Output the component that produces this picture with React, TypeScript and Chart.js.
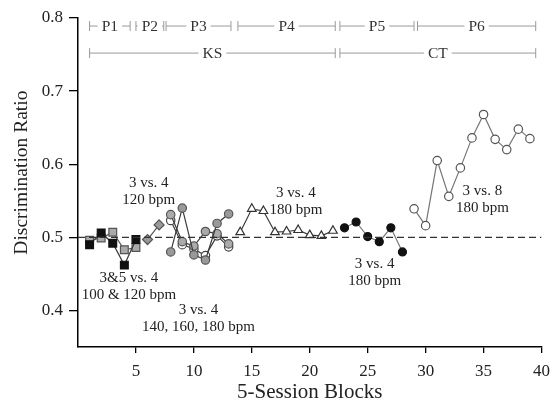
import React, { useEffect, useRef } from "react";
import { Chart, registerables } from "chart.js";

Chart.register(...registerables);

// ---- data ----
const p1Blocks = [1, 2, 3, 4, 5];
const p1Black = [0.49, 0.506, 0.492, 0.462, 0.497];
const p1Gray = [0.496, 0.499, 0.507, 0.483, 0.486];

const p2Blocks = [6, 7];
const p2Gray = [0.497, 0.517];

const p3Blocks = [8, 9, 10, 11, 12, 13];
const p3SeriesA = [0.48, 0.54, 0.476, 0.469, 0.519, 0.532];
const p3SeriesB = [0.531, 0.494, 0.488, 0.508, 0.505, 0.491];
const p3SeriesC = [0.523, 0.49, 0.484, 0.475, 0.502, 0.487];

const p4Blocks = [14, 15, 16, 17, 18, 19, 20, 21, 22];
const p4Values = [0.507, 0.539, 0.536, 0.507, 0.508, 0.51, 0.503, 0.502, 0.509];

const p5Blocks = [23, 24, 25, 26, 27, 28];
const p5Values = [0.513, 0.521, 0.501, 0.494, 0.513, 0.48];

const p6Blocks = [29, 30, 31, 32, 33, 34, 35, 36, 37, 38, 39];
const p6Values = [0.539, 0.516, 0.605, 0.556, 0.595, 0.636, 0.668, 0.634, 0.62, 0.648, 0.635];

const chanceLevel = 0.5;
const xRange = [0, 40];
const yRange = [0.35, 0.8];
const xTicks = [5, 10, 15, 20, 25, 30, 35, 40];
const yTicks = [0.4, 0.5, 0.6, 0.7, 0.8];
const xTitle = "5-Session Blocks";
const yTitle = "Discrimination Ratio";

const phaseLabels = ["P1", "P2", "P3", "P4", "P5", "P6"];
const phaseStarts = [1, 5, 7.6, 13.8, 22.6, 29.3];
const phaseEnds = [4.5, 7.4, 13.2, 22.2, 29.0, 39.5];

const conditionLabels = ["KS", "CT"];
const conditionStarts = [1, 22.6];
const conditionEnds = [22.2, 39.5];

const bracketRows = [0.789, 0.752];

const noteTexts = [
  ["3 vs. 4", "120 bpm"],
  ["3&5 vs. 4", "100 & 120 bpm"],
  ["3 vs. 4", "140, 160, 180 bpm"],
  ["3 vs. 4", "180 bpm"],
  ["3 vs. 4", "180 bpm"],
  ["3 vs. 8", "180 bpm"],
];
const noteX = [6.1, 4.4, 10.4, 18.8, 25.6, 34.9];
const noteY = [0.574, 0.444, 0.4, 0.56, 0.464, 0.563];

const FONT = "'Liberation Serif', 'Times New Roman', serif";

const pts = (xs: number[], ys: number[]) => xs.map((x, i) => ({ x, y: ys[i] }));

const overlayPlugin = {
  id: "overlay",
  afterDatasetsDraw(chart: any) {
    const { ctx, scales, chartArea } = chart;
    const xs = scales.x;
    const ys = scales.y;
    ctx.save();
    ctx.font = `15.5px ${FONT}`;
    ctx.textAlign = "center";
    ctx.textBaseline = "middle";

    const drawRow = (labels: string[], starts: number[], ends: number[], rowY: number) => {
      const py = ys.getPixelForValue(rowY);
      labels.forEach((lab, i) => {
        const x0 = xs.getPixelForValue(starts[i]);
        const x1 = xs.getPixelForValue(ends[i]);
        const cx = (x0 + x1) / 2;
        const w = ctx.measureText(lab).width;
        ctx.strokeStyle = "#9a9a9a";
        ctx.lineWidth = 1;
        ctx.beginPath();
        ctx.moveTo(x0, py);
        ctx.lineTo(cx - w / 2 - 4, py);
        ctx.moveTo(cx + w / 2 + 4, py);
        ctx.lineTo(x1, py);
        ctx.moveTo(x0, py - 5);
        ctx.lineTo(x0, py + 5);
        ctx.moveTo(x1, py - 5);
        ctx.lineTo(x1, py + 5);
        ctx.stroke();
        ctx.fillStyle = "#333";
        ctx.fillText(lab, cx, py + 1);
      });
    };
    drawRow(phaseLabels, phaseStarts, phaseEnds, bracketRows[0]);
    drawRow(conditionLabels, conditionStarts, conditionEnds, bracketRows[1]);

    ctx.font = `15px ${FONT}`;
    ctx.fillStyle = "#222";
    noteTexts.forEach((lines, i) => {
      const px = xs.getPixelForValue(noteX[i]);
      const py = ys.getPixelForValue(noteY[i]);
      lines.forEach((t, j) => ctx.fillText(t, px, py + j * 17));
    });

    // y-axis title
    ctx.font = `19.5px ${FONT}`;
    ctx.fillStyle = "#222";
    ctx.translate(22, chartArea.top + (chartArea.bottom - chartArea.top) * 0.47);
    ctx.rotate(-Math.PI / 2);
    ctx.fillText(yTitle, 0, 0);
    ctx.restore();
  },
};

export default function App() {
  const ref = useRef<HTMLCanvasElement | null>(null);

  useEffect(() => {
    if (!ref.current) return;
    const line = "#3a3a3a";
    const chart = new Chart(ref.current, {
      type: "line",
      data: {
        datasets: [
          {
            data: pts([xRange[0], xRange[1]], [chanceLevel, chanceLevel]),
            borderColor: "#333",
            borderWidth: 1.3,
            borderDash: [7, 4],
            pointRadius: 0,
          },
          {
            data: pts(p1Blocks, p1Black),
            borderColor: line,
            borderWidth: 1.2,
            pointStyle: "rect",
            pointRadius: 5.5,
            pointBackgroundColor: "#111",
            pointBorderColor: "#111",
          },
          {
            data: pts(p1Blocks, p1Gray),
            borderColor: "#555",
            borderWidth: 1.2,
            pointStyle: "rect",
            pointRadius: 5.5,
            pointBackgroundColor: "#aaa",
            pointBorderColor: "#555",
          },
          {
            data: pts(p2Blocks, p2Gray),
            borderColor: "#555",
            borderWidth: 1.2,
            pointStyle: "rectRot",
            pointRadius: 5,
            pointBackgroundColor: "#999",
            pointBorderColor: "#555",
          },
          {
            data: pts(p3Blocks, p3SeriesA),
            borderColor: line,
            borderWidth: 1.2,
            pointRadius: 4.2,
            pointBackgroundColor: "#999",
            pointBorderColor: "#555",
          },
          {
            data: pts(p3Blocks, p3SeriesB),
            borderColor: line,
            borderWidth: 1.2,
            pointRadius: 4.2,
            pointBackgroundColor: "#aaa",
            pointBorderColor: "#555",
          },
          {
            data: pts(p3Blocks, p3SeriesC),
            borderColor: line,
            borderWidth: 1.2,
            pointRadius: 4.2,
            pointBackgroundColor: "#fff",
            pointBorderColor: "#444",
          },
          {
            data: pts(p4Blocks, p4Values),
            borderColor: line,
            borderWidth: 1.2,
            pointStyle: "triangle",
            pointRadius: 5,
            pointBackgroundColor: "#fff",
            pointBorderColor: "#333",
          },
          {
            data: pts(p5Blocks, p5Values),
            borderColor: "#777",
            borderWidth: 1.2,
            pointRadius: 4,
            pointBackgroundColor: "#111",
            pointBorderColor: "#111",
          },
          {
            data: pts(p6Blocks, p6Values),
            borderColor: "#777",
            borderWidth: 1.2,
            pointRadius: 4.2,
            pointBackgroundColor: "#fff",
            pointBorderColor: "#555",
          },
        ],
      },
      options: {
        responsive: false,
        animation: false,
        parsing: true,
        layout: { padding: { top: 18, right: 8, left: 0, bottom: 0 } },
        plugins: { legend: { display: false }, tooltip: { enabled: false } },
        scales: {
          x: {
            type: "linear",
            min: xRange[0],
            max: xRange[1],
            afterBuildTicks: (s: any) => {
              s.ticks = xTicks.map((v) => ({ value: v }));
            },
            afterFit: (s: any) => {
              s.height = 58;
            },
            grid: { drawOnChartArea: false, drawTicks: true, tickLength: 6, color: "#000", lineWidth: 1.3 },
            border: { display: true, color: "#000", width: 1.5 },
            ticks: { color: "#222", font: { family: FONT, size: 17 }, padding: 8, maxRotation: 0 },
            title: {
              display: true,
              text: xTitle,
              color: "#222",
              font: { family: FONT, size: 21 },
              padding: { top: 0, bottom: 0 },
            },
          },
          y: {
            type: "linear",
            min: yRange[0],
            max: yRange[1],
            afterBuildTicks: (s: any) => {
              s.ticks = yTicks.map((v) => ({ value: v }));
            },
            afterFit: (s: any) => {
              s.width = 78;
            },
            grid: { drawOnChartArea: false, drawTicks: true, tickLength: 9, color: "#000", lineWidth: 1.3 },
            border: { display: true, color: "#000", width: 1.5 },
            ticks: {
              color: "#222",
              font: { family: FONT, size: 17 },
              padding: 6,
              callback: (v: any) => Number(v).toFixed(1),
            },
            title: { display: false },
          },
        },
      },
      plugins: [overlayPlugin],
    });
    return () => chart.destroy();
  }, []);

  return (
    <div style={{ position: "fixed", left: 0, top: 0, width: 558, height: 405, background: "#fff" }}>
      <canvas ref={ref} width={558} height={405} />
    </div>
  );
}
